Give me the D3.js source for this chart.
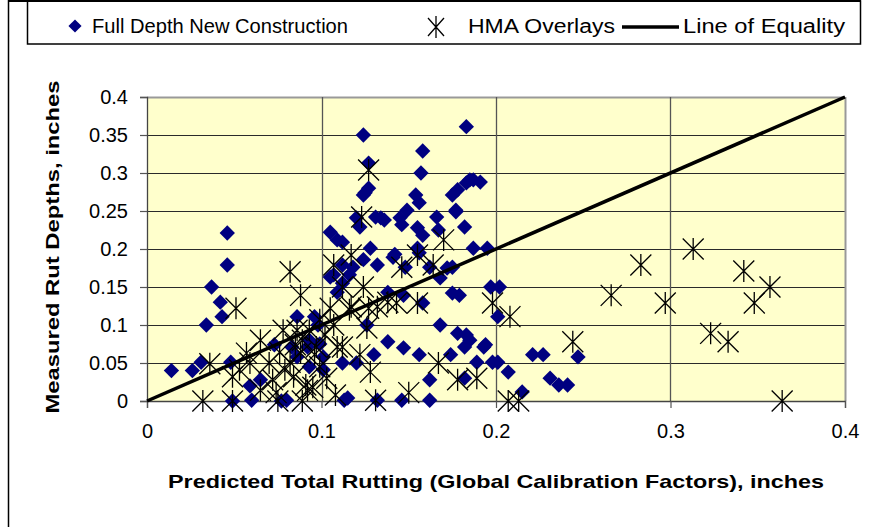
<!DOCTYPE html>
<html>
<head>
<meta charset="utf-8">
<script src="https://cdn.jsdelivr.net/npm/d3@7"></script>
<style>
  body { margin: 0; background: #fff; }
  text { font-family: "Liberation Sans", Arial, sans-serif; }
</style>
</head>
<body>
<div id="chart"></div>
<script>
// Full Depth New Construction: [predicted, measured]
const fullDepth = [
    [0.046, 0.179], [0.046, 0.221], [0.037, 0.150], [0.042, 0.130], [0.043, 0.111], [0.034, 0.100],
    [0.014, 0.040], [0.026, 0.040], [0.031, 0.051], [0.048, 0.051], [0.059, 0.020], [0.065, 0.028],
    [0.049, 0.000], [0.060, 0.001], [0.077, 0.000], [0.080, 0.001], [0.086, 0.111], [0.096, 0.111],
    [0.073, 0.074], [0.083, 0.071], [0.086, 0.058], [0.092, 0.071], [0.099, 0.075], [0.093, 0.045],
    [0.101, 0.041], [0.124, 0.350], [0.183, 0.361], [0.158, 0.329], [0.127, 0.313], [0.157, 0.300],
    [0.127, 0.280], [0.124, 0.271], [0.154, 0.271], [0.156, 0.261], [0.175, 0.271], [0.178, 0.278],
    [0.183, 0.287], [0.187, 0.291], [0.191, 0.288], [0.149, 0.251], [0.145, 0.241], [0.146, 0.232],
    [0.134, 0.241], [0.131, 0.242], [0.122, 0.229], [0.166, 0.242], [0.177, 0.251], [0.182, 0.229],
    [0.155, 0.228], [0.158, 0.218], [0.167, 0.225], [0.105, 0.222], [0.109, 0.212], [0.112, 0.209],
    [0.128, 0.201], [0.142, 0.193], [0.155, 0.201], [0.187, 0.201], [0.195, 0.201], [0.120, 0.241],
    [0.136, 0.238], [0.125, 0.274], [0.177, 0.249], [0.141, 0.189], [0.156, 0.195], [0.162, 0.176],
    [0.172, 0.175], [0.168, 0.162], [0.132, 0.179], [0.124, 0.186], [0.118, 0.176], [0.116, 0.166],
    [0.107, 0.166], [0.112, 0.179], [0.105, 0.163], [0.112, 0.155], [0.109, 0.143], [0.138, 0.143],
    [0.147, 0.139], [0.175, 0.142], [0.197, 0.150], [0.202, 0.150], [0.201, 0.111], [0.179, 0.139],
    [0.148, 0.176], [0.175, 0.176], [0.158, 0.129], [0.126, 0.100], [0.168, 0.100], [0.178, 0.089],
    [0.185, 0.080], [0.193, 0.071], [0.182, 0.071], [0.138, 0.078], [0.147, 0.070], [0.156, 0.061],
    [0.174, 0.061], [0.189, 0.051], [0.198, 0.051], [0.130, 0.061], [0.120, 0.050], [0.112, 0.050],
    [0.162, 0.028], [0.182, 0.030], [0.113, 0.001], [0.132, 0.001], [0.162, 0.001], [0.183, 0.087],
    [0.194, 0.074], [0.201, 0.051], [0.207, 0.038], [0.221, 0.061], [0.227, 0.061], [0.247, 0.058],
    [0.231, 0.030], [0.236, 0.021], [0.241, 0.021], [0.215, 0.012], [0.185, 0.291], [0.146, 0.001],
    [0.101, 0.058], [0.115, 0.004], [0.098, 0.100], [0.093, 0.080]
];

// HMA Overlays: [predicted, measured]
const hmaOverlays = [
    [0.127, 0.304], [0.123, 0.242], [0.082, 0.170], [0.088, 0.139], [0.051, 0.122], [0.036, 0.049],
    [0.032, 0.000], [0.049, 0.000], [0.075, 0.000], [0.089, 0.000], [0.170, 0.212], [0.117, 0.192],
    [0.107, 0.179], [0.146, 0.176], [0.155, 0.192], [0.164, 0.179], [0.124, 0.150], [0.112, 0.150],
    [0.138, 0.130], [0.198, 0.129], [0.208, 0.111], [0.244, 0.078], [0.266, 0.139], [0.283, 0.179],
    [0.297, 0.129], [0.313, 0.200], [0.323, 0.089], [0.333, 0.078], [0.342, 0.171], [0.348, 0.129],
    [0.357, 0.150], [0.364, 0.000], [0.207, 0.000], [0.213, 0.000], [0.189, 0.030], [0.178, 0.028],
    [0.167, 0.050], [0.150, 0.011], [0.131, 0.001], [0.128, 0.038], [0.122, 0.061], [0.112, 0.071],
    [0.126, 0.096], [0.155, 0.129], [0.132, 0.124], [0.127, 0.122], [0.117, 0.124], [0.105, 0.122],
    [0.107, 0.100], [0.109, 0.071], [0.103, 0.030], [0.091, 0.021], [0.057, 0.063], [0.053, 0.041],
    [0.049, 0.032], [0.065, 0.080], [0.070, 0.050], [0.076, 0.064], [0.078, 0.093], [0.086, 0.093],
    [0.089, 0.080], [0.093, 0.093], [0.084, 0.032], [0.092, 0.014], [0.072, 0.028], [0.065, 0.014],
    [0.088, 0.063], [0.097, 0.071], [0.099, 0.045], [0.095, 0.018], [0.074, 0.011], [0.059, 0.050],
    [0.099, 0.107], [0.096, 0.061], [0.102, 0.087], [0.082, 0.051], [0.085, 0.074], [0.079, 0.041],
    [0.116, 0.120], [0.108, 0.008], [0.143, 0.129]
];

const equalityLine = [[0, 0], [0.4, 0.4]];

const xTicks = [0, 0.1, 0.2, 0.3, 0.4];
const yTicks = [0, 0.05, 0.1, 0.15, 0.2, 0.25, 0.3, 0.35, 0.4];

const width = 881;
const height = 527;
const plot = { left: 147, right: 845, top: 97, bottom: 401 };

const svg = d3.select('#chart').append('svg')
    .attr('width', width)
    .attr('height', height);

const x = d3.scaleLinear().domain([0, 0.4]).range([plot.left, plot.right]);
const y = d3.scaleLinear().domain([0, 0.4]).range([plot.bottom, plot.top]);

// outer frame and legend box
svg.append('line').attr('x1', 8.5).attr('x2', 8.5).attr('y1', 0).attr('y2', height)
    .attr('stroke', '#000').attr('stroke-width', 1.5);
svg.append('line').attr('x1', 8).attr('x2', 861).attr('y1', 1).attr('y2', 1)
    .attr('stroke', '#000').attr('stroke-width', 2);
svg.append('rect').attr('x', 27.5).attr('y', 1).attr('width', 833).attr('height', 43)
    .attr('fill', 'none').attr('stroke', '#000').attr('stroke-width', 1.5);

// plot background
svg.append('rect')
    .attr('x', plot.left).attr('y', plot.top)
    .attr('width', plot.right - plot.left).attr('height', plot.bottom - plot.top)
    .attr('fill', '#ffffcc');

// grid lines
svg.append('g').selectAll('line').data(yTicks).enter().append('line')
    .attr('x1', plot.left).attr('x2', plot.right)
    .attr('y1', d => Math.round(y(d)) + 0.5).attr('y2', d => Math.round(y(d)) + 0.5)
    .attr('stroke', d => d === 0.4 ? '#999' : '#2a2a2a')
    .attr('stroke-width', d => d === 0.4 ? 2 : 1.2);

svg.append('g').selectAll('line').data(xTicks.slice(1)).enter().append('line')
    .attr('x1', d => Math.round(x(d)) + 0.5).attr('x2', d => Math.round(x(d)) + 0.5)
    .attr('y1', plot.top).attr('y2', plot.bottom)
    .attr('stroke', d => d === 0.4 ? '#999' : '#555')
    .attr('stroke-width', d => d === 0.4 ? 2 : 1.3);

// axes
const yAxis = svg.append('g')
    .attr('transform', `translate(${plot.left},0)`)
    .call(d3.axisLeft(y).tickValues(yTicks).tickSize(7).tickPadding(12)
        .tickFormat(d => d3.format('')(+d.toFixed(2))));
const xAxis = svg.append('g')
    .attr('transform', `translate(0,${plot.bottom})`)
    .call(d3.axisBottom(x).tickValues(xTicks).tickSize(7).tickPadding(16)
        .tickFormat(d => d3.format('')(+d.toFixed(1))));

[yAxis, xAxis].forEach(a => {
    a.select('.domain').attr('stroke', '#444').attr('stroke-width', 1.3);
    a.selectAll('.tick line').attr('stroke', '#555').attr('stroke-width', 1.2);
    a.selectAll('.tick text')
        .attr('font-family', '"Liberation Sans", Arial, sans-serif')
        .attr('font-size', 20)
        .attr('fill', '#000');
});

// symbols
const diamond = d3.symbol().type(d3.symbolDiamond2).size(150);
const starPath = 'M0,-11V11M-10.5,-10.5L10.5,10.5M-10.5,10.5L10.5,-10.5';

svg.append('g').selectAll('path').data(fullDepth).enter().append('path')
    .attr('d', diamond)
    .attr('transform', d => `translate(${x(d[0])},${y(d[1])})`)
    .attr('fill', '#000080');

svg.append('g').selectAll('path').data(hmaOverlays).enter().append('path')
    .attr('d', starPath)
    .attr('transform', d => `translate(${x(d[0])},${y(d[1])})`)
    .attr('fill', 'none')
    .attr('stroke', '#000')
    .attr('stroke-width', 1.3);

svg.append('path')
    .datum(equalityLine)
    .attr('d', d3.line().x(d => x(d[0])).y(d => y(d[1])))
    .attr('stroke', '#000')
    .attr('stroke-width', 3.5)
    .attr('fill', 'none');

// axis titles
svg.append('text')
    .attr('x', 496).attr('y', 488)
    .attr('text-anchor', 'middle')
    .attr('font-size', 19).attr('font-weight', 'bold')
    .attr('textLength', 656).attr('lengthAdjust', 'spacingAndGlyphs')
    .text('Predicted Total Rutting (Global Calibration Factors), inches');

svg.append('text')
    .attr('transform', 'translate(59,247) rotate(-90)')
    .attr('text-anchor', 'middle')
    .attr('font-size', 19).attr('font-weight', 'bold')
    .attr('textLength', 333).attr('lengthAdjust', 'spacingAndGlyphs')
    .text('Measured Rut Depths, inches');

// legend
const legend = svg.append('g');
legend.append('path')
    .attr('d', d3.symbol().type(d3.symbolDiamond2).size(110))
    .attr('transform', 'translate(75,26)')
    .attr('fill', '#000080');
legend.append('text').attr('x', 92).attr('y', 33).attr('font-size', 20)
    .attr('textLength', 256).attr('lengthAdjust', 'spacingAndGlyphs')
    .text('Full Depth New Construction');
legend.append('path')
    .attr('d', 'M0,-11V11M-8,-9L8,9M-8,9L8,-9')
    .attr('transform', 'translate(436,27)')
    .attr('fill', 'none').attr('stroke', '#000').attr('stroke-width', 1.3);
legend.append('text').attr('x', 468).attr('y', 33).attr('font-size', 20)
    .attr('textLength', 147).attr('lengthAdjust', 'spacingAndGlyphs')
    .text('HMA Overlays');
legend.append('line').attr('x1', 622).attr('x2', 679).attr('y1', 27).attr('y2', 27)
    .attr('stroke', '#000').attr('stroke-width', 3.5);
legend.append('text').attr('x', 683).attr('y', 33).attr('font-size', 20)
    .attr('textLength', 162).attr('lengthAdjust', 'spacingAndGlyphs')
    .text('Line of Equality');
</script>
</body>
</html>
